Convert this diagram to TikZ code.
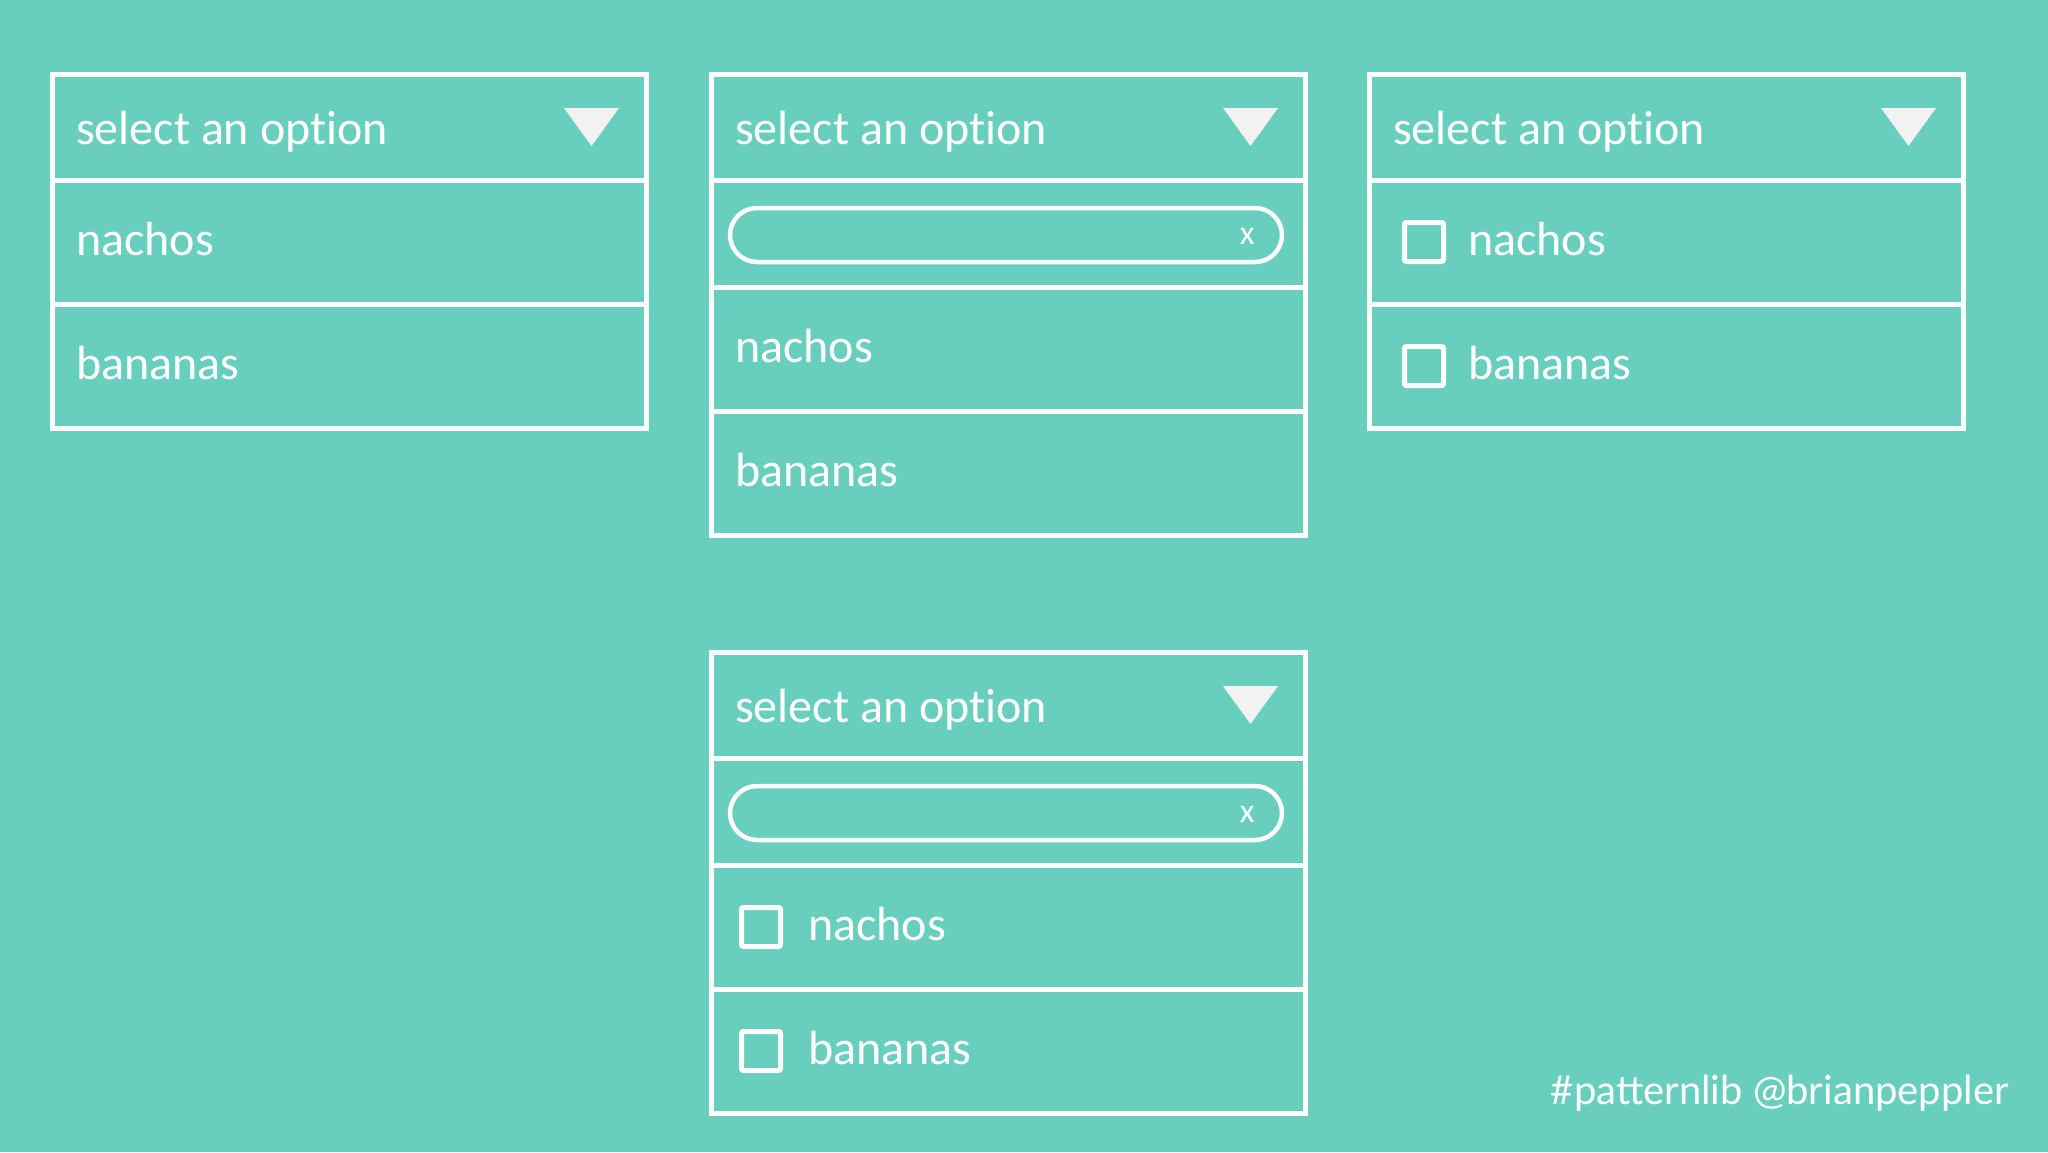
\documentclass[tikz,border=0pt]{standalone}
\usepackage{fontspec}
\setmainfont{Carlito}[Ligatures=NoCommon]
\newfontfamily\tagfont{Lato}
\usetikzlibrary{positioning}
\definecolor{bgteal}{RGB}{104,206,190}
\definecolor{tri}{RGB}{242,242,242}

\begin{document}
\begin{tikzpicture}[x=1pt,y=-1pt,
    box/.style={draw=white,line width=5pt,minimum width=594pt,inner sep=0pt,outer sep=0pt,anchor=north west},
    hdr/.style={box,minimum height=106pt},
    srch/.style={box,minimum height=107pt},
    row/.style={box,minimum height=124pt},
    txt/.style={text=white,font=\fontsize{48}{58}\selectfont,inner sep=0pt,text height=26pt,text depth=0pt,anchor=west},
    pill/.style={draw=white,line width=4.5pt,minimum width=552pt,minimum height=54pt,rounded corners=27pt,inner sep=0pt},
    xmark/.style={text=white,font=\fontsize{34}{40}\selectfont,inner sep=0pt},
    tick/.style={draw=white,line width=5pt,rounded corners=2pt,minimum size=39pt,inner sep=0pt,anchor=west}]
    \fill[bgteal] (0,0) rectangle (2048,1152);
    \useasboundingbox (0,0) rectangle (2048,1152);
    % plain select
    \node[hdr] (h1) at (52,74) {};
    \node[row,below=0pt of h1] (a1) {};
    \node[row,below=0pt of a1] (b1) {};
    \node[txt,right=24pt of h1.west,yshift=-4pt] (th1) {select an option};
    \node[txt,right=24pt of a1.west] (ta1) {nachos};
    \node[txt,right=24pt of b1.west] (tb1) {bananas};
    \fill[tri] ([xshift=-82pt,yshift=19pt]h1.east) -- ++(55,0) -- ++(-27.5,38) -- cycle;
    % select with search
    \node[hdr] (h2) at (711,74) {};
    \node[srch,below=0pt of h2] (s2) {};
    \node[row,below=0pt of s2] (a2) {};
    \node[row,below=0pt of a2] (b2) {};
    \node[pill] (p2) at ([xshift=-2pt,yshift=-1.5pt]s2.center) {};
    \node[xmark] (x2) at ([xshift=-37pt,yshift=-1pt]p2.east) {x};
    \node[txt,right=24pt of h2.west,yshift=-4pt] (th2) {select an option};
    \node[txt,right=24pt of a2.west] (ta2) {nachos};
    \node[txt,right=24pt of b2.west] (tb2) {bananas};
    \fill[tri] ([xshift=-82pt,yshift=19pt]h2.east) -- ++(55,0) -- ++(-27.5,38) -- cycle;
    % multi select
    \node[hdr] (h3) at (1369,74) {};
    \node[row,below=0pt of h3] (a3) {};
    \node[row,below=0pt of a3] (b3) {};
    \node[tick,right=33pt of a3.west] (ca3) {};
    \node[tick,right=33pt of b3.west] (cb3) {};
    \node[txt,right=24pt of h3.west,yshift=-4pt] (th3) {select an option};
    \node[txt,right=99pt of a3.west] (ta3) {nachos};
    \node[txt,right=99pt of b3.west] (tb3) {bananas};
    \fill[tri] ([xshift=-82pt,yshift=19pt]h3.east) -- ++(55,0) -- ++(-27.5,38) -- cycle;
    % multi select with search
    \node[hdr] (h4) at (711,652) {};
    \node[srch,below=0pt of h4] (s4) {};
    \node[row,below=0pt of s4] (a4) {};
    \node[row,below=0pt of a4] (b4) {};
    \node[pill] (p4) at ([xshift=-2pt,yshift=-1.5pt]s4.center) {};
    \node[xmark] (x4) at ([xshift=-37pt,yshift=-1pt]p4.east) {x};
    \node[tick,right=28pt of a4.west] (ca4) {};
    \node[tick,right=28pt of b4.west] (cb4) {};
    \node[txt,right=24pt of h4.west,yshift=-4pt] (th4) {select an option};
    \node[txt,right=97pt of a4.west] (ta4) {nachos};
    \node[txt,right=97pt of b4.west] (tb4) {bananas};
    \fill[tri] ([xshift=-82pt,yshift=19pt]h4.east) -- ++(55,0) -- ++(-27.5,38) -- cycle;
    \node[text=white,font=\tagfont\fontsize{40}{48}\selectfont,inner sep=0pt,anchor=base east] (tag) at (2009,1104) {\#patternlib @brianpeppler};
\end{tikzpicture}
\end{document}
